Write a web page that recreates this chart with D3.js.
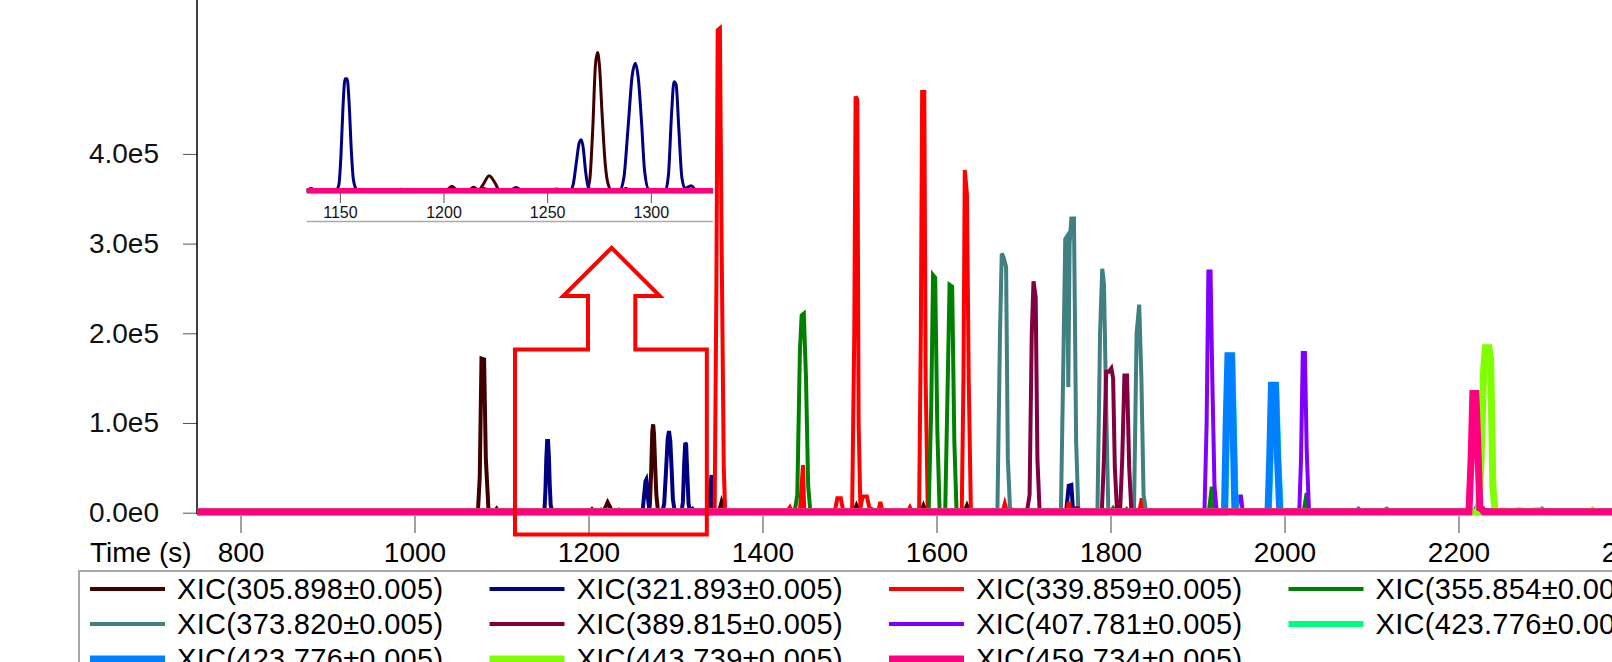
<!DOCTYPE html>
<html>
<head>
<meta charset="utf-8">
<script src="https://cdn.jsdelivr.net/npm/d3@7"></script>
<style>
  body { margin: 0; background: #fff; }
  svg { display: block; font-family: "Liberation Sans", Arial, sans-serif; }
</style>
</head>
<body>
<svg id="chart" width="1612" height="662"></svg>
<script>
// Extracted ion chromatograms: [time (s), intensity]
const xic305 = [[750,1000],[1070,1000],[1073,3000],[1075,40000],[1077,172000],[1080,171000],[1082,60000],[1085,4000],[1088,1500],
  [1092,1000],[1094.5,4500],[1097,1000],[1134,1000],[1136,2500],[1139,1000],[1201,1000],[1204,4000],[1207,1000],[1212,1000],
  [1214.5,3300],[1217,1500],[1219,5000],[1222,11500],[1225,6000],[1227,1000],[1269,1000],[1270.5,8000],[1272,45000],
  [1273.3,90000],[1274.3,98500],[1275.3,88000],[1276.5,55000],[1278,20000],[1279.5,5000],[1281,1500],[1286,1000],
  [1288,2500],[1290,1000],[1350,1000],[1353,12000],[1356,3000],[1360,1000],[1505,1000],[1508,8000],[1511,1000],
  [1582,1000],[1585,8000],[1588,1000],[1632,1000],[1635,8000],[1638,1000],[2400,1000]];

const xic321 = [[750,1000],[1148,1000],[1149.5,5000],[1150.5,25000],[1151.5,60000],[1152.5,80000],[1153.5,80000],
  [1154.5,62000],[1155.5,30000],[1156.5,9000],[1158,2000],[1160,1000],[1177,1000],[1179.5,2000],[1182,1000],[1215,1000],
  [1218,2000],[1219.5,2500],[1222,1000],[1232,1000],[1235,3200],[1238,1000],[1251,1000],[1254.5,2200],[1257,1000],
  [1261,1000],[1262.5,5000],[1264,20000],[1265.5,35000],[1266.5,37000],[1267.5,30000],[1268.5,15000],[1270,3000],
  [1272,1000],[1285,1000],[1287,10000],[1289,45000],[1291,82000],[1292.5,91000],[1294,80000],[1295.5,50000],
  [1297,15000],[1299,2000],[1307,1000],[1308.5,12000],[1310,55000],[1311.2,78000],[1312.2,76000],[1313.5,45000],
  [1315,10000],[1316.5,2500],[1319.5,4500],[1322,1000],[1338,1000],[1340,30000],[1341.5,42000],[1343,5000],[1345,1000],
  [1749,1000],[1752,30000],[1755,31000],[1757,1000],[2400,1000]];

const xic339 = [[750,1000],[1342,1000],[1345,1000],[1347,250000],[1348.5,538000],[1351,540000],[1353,300000],[1355.5,50000],
  [1357,2000],[1360,1000],[1428,1000],[1431.5,6000],[1434,1000],[1443,1000],[1445,30000],[1446.5,53000],[1448,1000],
  [1483,1000],[1486,16000],[1490,16000],[1493,1000],[1503,1000],[1505.5,200000],[1507,464000],[1509,460000],[1510.5,100000],
  [1512.5,5000],[1515,18000],[1520,18000],[1523,5000],[1533,1000],[1535.5,12000],[1538,1000],[1567,1000],[1569.5,6000],
  [1572,1000],[1580,1000],[1582,200000],[1583.5,469000],[1586,469000],[1587.5,150000],[1590,1000],[1629,1000],
  [1631,150000],[1632.5,382000],[1635,355000],[1637,150000],[1639.5,2000],[1642,1000],[1676,1000],[1678.5,10000],
  [1681,1000],[1750,1000],[1752,12000],[1754,1000],[1833,1000],[1836,16000],[1839,1000],[2400,1000]];

const xic355 = [[750,1000],[1437,1000],[1440,20000],[1443,180000],[1445,220000],[1447.5,222000],[1450,150000],[1452.5,30000],
  [1455,1500],[1458,1000],[1522,1000],[1524,3000],[1527,1000],[1591,1000],[1594,120000],[1596,265000],[1598.5,262000],
  [1601,90000],[1603.5,5000],[1606,1000],[1610,1000],[1613,150000],[1615,254000],[1618,252000],[1620.5,80000],
  [1623,3000],[1626,1000],[1800,1000],[1803,5000],[1806,1000],[1816,1000],[1818.5,4000],[1821,1000],[1913,1000],
  [1916.5,29000],[1919,1000],[2022,1000],[2025.5,22000],[2028,1000],[2400,1000]];

const xic373 = [[750,1000],[1670,1000],[1673,200000],[1675,289000],[1677,285000],[1680,274000],[1682,60000],[1684.5,4000],
  [1688,3500],[1690,1000],[1743,1000],[1746,180000],[1748,305000],[1750,308000],[1751.5,140000],[1753,300000],[1755,328000],
  [1758,328000],[1760.5,80000],[1763,2000],[1775,1000],[1778,2000],[1781,1000],[1785,1000],[1788,200000],[1790.5,272000],
  [1792.5,255000],[1795,120000],[1797.5,2000],[1800,1000],[1827,1000],[1830,200000],[1833,232000],[1835.5,150000],
  [1838,20000],[1841,1000],[2400,1000]];

const xic389 = [[750,1000],[1704,1000],[1707,20000],[1709.5,200000],[1711.5,258000],[1714,240000],[1716,60000],[1718.5,2000],
  [1721,1000],[1742,1000],[1744,2000],[1746,1000],[1755,1000],[1758,5000],[1763,5000],[1766,1000],[1790,1000],
  [1792.5,60000],[1795,157000],[1798,157000],[1801,161000],[1803,150000],[1805,50000],[1807.5,2000],[1811,1000],
  [1813.5,60000],[1816,153000],[1819,153000],[1821.5,50000],[1824,2000],[1827,1000],[2400,1000]];

const xic407 = [[750,1000],[1908,1000],[1910.5,100000],[1912.5,269000],[1915,269000],[1917,150000],[1919.5,30000],
  [1922,2000],[1925,1000],[1945,1000],[1947,18000],[1950,18000],[1952,1000],[2017,1000],[2019,60000],[2021,178000],
  [2023.5,178000],[2025.5,70000],[2028,5000],[2031,1000],[2400,1000]];

const xic423a = [[750,1000],[1932,1000],[1934,100000],[1936,175000],[1940,175000],[1942,90000],[1944,2000],[1946,1000],
  [1982,1000],[1984,60000],[1986,142000],[1990.5,142000],[1993,60000],[1995.5,2000],[1997,1000],[2400,1000]];

const xic423b = [[750,800],[1931,800],[1933,100000],[1935,175000],[1939,175000],[1941,90000],[1943,2000],[1945,1000],
  [1981,1000],[1983,60000],[1985,142000],[1989.5,142000],[1992,60000],[1994.5,2000],[1996,1000],[2083,1000],[2085,2500],
  [2087,1000],[2115,1000],[2117.5,2500],[2120,1000],[2219,1000],[2221,4000],[2223,1000],[2294,1000],[2296,2500],
  [2298,1000],[2400,1000]];

const xic443 = [[750,1000],[2223,1000],[2226,60000],[2229,160000],[2231,184000],[2235,184000],[2237,170000],[2239.5,30000],
  [2242,2000],[2245,1000],[2250,2000],[2260,1000],[2270,2500],[2280,1000],[2290,2500],[2300,1000],[2352,1000],
  [2354,2500],[2356,1000],[2400,1000]];

const xic459 = [[750,1000],[2212,1000],[2214.5,60000],[2216.5,133000],[2220,133000],[2222,80000],[2224.5,5000],
  [2227,4000],[2229,1000],[2400,1000]];

const seriesData = [xic305, xic321, xic339, xic355, xic373, xic389, xic407, xic423a, xic423b, xic443, xic459];
const seriesNames = ["XIC(305.898±0.005)", "XIC(321.893±0.005)", "XIC(339.859±0.005)", "XIC(355.854±0.005)",
  "XIC(373.820±0.005)", "XIC(389.815±0.005)", "XIC(407.781±0.005)", "XIC(423.776±0.005)",
  "XIC(423.776±0.005)", "XIC(443.739±0.005)", "XIC(459.734±0.005)"];
const seriesColors = ["#400000", "#000080", "#ff0000", "#008000", "#408080", "#800040", "#8000ff", "#00ff80",
  "#0080ff", "#80ff00", "#ff0080"];
const seriesWidths = [4, 4, 4, 4, 4, 4, 4, 6, 7, 7, 7];

const xTickValues = [800, 1000, 1200, 1400, 1600, 1800, 2000, 2200, 2400];
const yTickValues = [0, 100000, 200000, 300000, 400000];
const yTickLabels = ["0.0e0", "1.0e5", "2.0e5", "3.0e5", "4.0e5"];
const insetTickValues = [1150, 1200, 1250, 1300];
const insetDomain = [1134, 1330];

// arrow outline around the zoomed region, in data units
const arrowTimes = [1115.5, 1115.5, 1199.4, 1199.4, 1171, 1226.6, 1282, 1253.8, 1253.8, 1336, 1336];
const arrowIntensity = [-24400, 181900, 181900, 241600, 241600, 295300, 241600, 241600, 181900, 181900, -24400];

const svg = d3.select("#chart");
const plotLeft = 197, plotBottom = 512.7;

const x = d3.scaleLinear().domain([750, 2400]).range([plotLeft, plotLeft + 1650 * 0.87]);
const y = d3.scaleLinear().domain([0, 500000]).range([plotBottom, plotBottom - 448.5]);

svg.append("defs").append("clipPath").attr("id", "plotClip")
  .append("rect").attr("x", plotLeft).attr("y", 0).attr("width", 1612 - plotLeft).attr("height", 530);
svg.select("defs").append("clipPath").attr("id", "insetClip")
  .append("rect").attr("x", 306.7).attr("y", 0).attr("width", 713 - 306.7).attr("height", 200);

// x axis
const xAxis = svg.append("g")
  .attr("transform", "translate(0,516)")
  .call(d3.axisBottom(x).tickValues(xTickValues).tickSize(17).tickPadding(9).tickFormat(d3.format("d")));
xAxis.select(".domain").remove();
xAxis.selectAll("line").attr("stroke", "#444");
xAxis.selectAll("text").attr("font-size", 28).attr("font-family", null).attr("fill", "#000");

svg.append("text")
  .attr("x", 90).attr("y", 562)
  .attr("font-size", 28).text("Time (s)");

// y axis
const yAxis = svg.append("g")
  .attr("transform", "translate(" + plotLeft + ",0)")
  .call(d3.axisLeft(y).tickValues(yTickValues).tickSize(14).tickPadding(24)
    .tickFormat(function(d, i) { return yTickLabels[i]; }));
yAxis.select(".domain").remove();
yAxis.selectAll("line").attr("stroke", "#555");
yAxis.selectAll("text").attr("font-size", 28).attr("font-family", null).attr("fill", "#111");
svg.append("line")
  .attr("x1", plotLeft).attr("x2", plotLeft).attr("y1", 0).attr("y2", 514)
  .attr("stroke", "#000").attr("stroke-width", 1.5);

// chromatogram traces
const line = d3.line()
  .x(function(d) { return x(d[0]); })
  .y(function(d) { return y(d[1]); });

svg.append("g").attr("clip-path", "url(#plotClip)")
  .selectAll("path")
  .data(seriesData)
  .enter()
  .append("path")
    .attr("d", line)
    .attr("fill", "none")
    .attr("stroke", function(d, i) { return seriesColors[i]; })
    .attr("stroke-width", function(d, i) { return seriesWidths[i]; });

// arrow annotation
const arrowPts = arrowTimes.map(function(t, i) { return [x(t), y(arrowIntensity[i])]; });
svg.append("path")
  .attr("d", "M" + arrowPts.join("L") + "Z")
  .attr("fill", "none")
  .attr("stroke", "#ff0000")
  .attr("stroke-width", 4);

// inset zoom of 1134-1330 s
const xi = d3.scaleLinear().domain(insetDomain).range([306.7, 713]);
const yi = d3.scaleLinear().domain([0, 100000]).range([192, 50.5]);
const insetLine = d3.line()
  .x(function(d) { return xi(d[0]); })
  .y(function(d) { return yi(d[1]); })
  .curve(d3.curveMonotoneX);

svg.append("g").attr("clip-path", "url(#insetClip)")
  .selectAll("path")
  .data(seriesData)
  .enter()
  .append("path")
    .attr("d", insetLine)
    .attr("fill", "none")
    .attr("stroke", function(d, i) { return seriesColors[i]; })
    .attr("stroke-width", function(d, i) { return seriesWidths[i] * 0.75; });

const insetAxis = svg.append("g")
  .attr("transform", "translate(0,193)")
  .call(d3.axisBottom(xi).tickValues(insetTickValues).tickSize(10).tickPadding(4).tickFormat(d3.format("d")));
insetAxis.select(".domain").remove();
insetAxis.selectAll("line").attr("stroke", "#555");
insetAxis.selectAll("text").attr("font-size", 16).attr("font-family", null).attr("fill", "#111");
svg.append("line")
  .attr("x1", 306.7).attr("x2", 713).attr("y1", 221.5).attr("y2", 221.5)
  .attr("stroke", "#aaa").attr("stroke-width", 1.5);

// legend
const legend = svg.append("g").attr("class", "legend");
legend.append("rect")
  .attr("x", 79).attr("y", 571).attr("width", 1700).attr("height", 200)
  .attr("fill", "#fff").attr("stroke", "#a8a8a8").attr("stroke-width", 2);

const legendItems = legend.selectAll(".legend-item")
  .data(seriesNames)
  .enter()
  .append("g")
  .attr("class", "legend-item")
  .attr("transform", function(d, i) {
    return "translate(" + (90 + (i % 4) * 399.5) + "," + (589 + Math.floor(i / 4) * 35) + ")";
  });

legendItems.append("line")
  .attr("x1", 0).attr("x2", 75)
  .attr("stroke", function(d, i) { return seriesColors[i]; })
  .attr("stroke-width", function(d, i) { return seriesWidths[i]; });

legendItems.append("text")
  .attr("x", 87).attr("y", 10)
  .attr("font-size", 29)
  .attr("letter-spacing", 0.3)
  .text(function(d) { return d; });
</script>
</body>
</html>
